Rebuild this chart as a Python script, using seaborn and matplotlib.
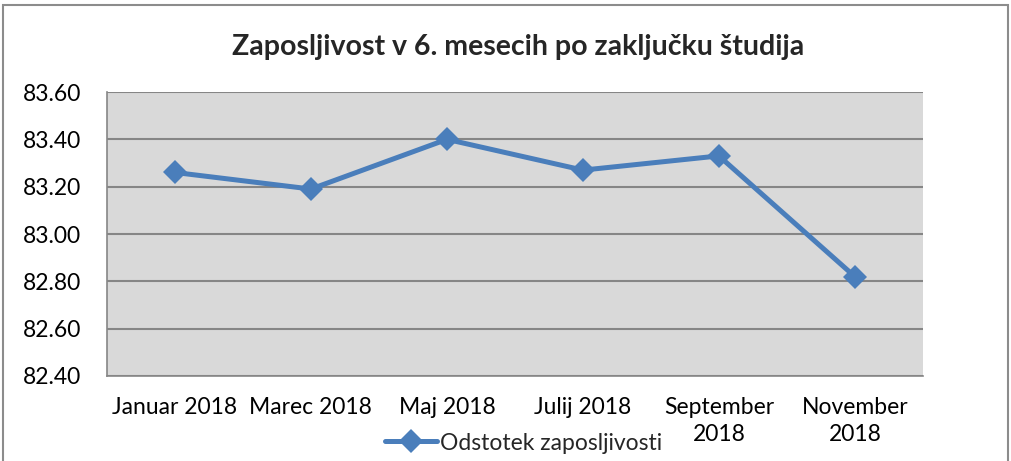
import numpy as np
import pandas as pd
import matplotlib.pyplot as plt
import seaborn as sns
from matplotlib.lines import Line2D
from matplotlib.patches import Rectangle


# -----------------------------
# Data
# -----------------------------
months = [
    "Januar 2018", "Marec 2018", "Maj 2018",
    "Julij 2018", "September\n2018", "November\n2018"
]
employment = [83.26, 83.19, 83.40, 83.27, 83.33, 82.82]
y_ticks = [82.40, 82.60, 82.80, 83.00, 83.20, 83.40, 83.60]

series_name = "Odstotek zaposljivosti"
title = "Zaposljivost v 6. mesecih po zaključku študija"

BLUE = "#4a7ebb"
GRID = "#868686"


def main():

    sns.set_style("white")
    plt.rcParams["font.family"] = ["Lato", "DejaVu Sans"]

    df = pd.DataFrame({"month": months, "value": employment})
    df["pos"] = np.arange(len(months))

    fig = plt.figure(figsize=(10.11, 4.61), dpi=100)
    ax = fig.add_axes([0.1058, 0.1844, 0.807, 0.6160])
    ax.set_facecolor("#d9d9d9")

    sns.lineplot(
        data=df,
        x="pos",
        y="value",
        ax=ax,
        color=BLUE,
        linewidth=3.6,
        marker="D",
        markersize=12,
        markeredgewidth=0,
        legend=False
    )

    # y axis
    ax.set_ylim(y_ticks[0], y_ticks[-1])
    ax.set_yticks(y_ticks)
    ax.set_yticklabels([f"{t:.2f}" for t in y_ticks])
    ax.yaxis.grid(True, color=GRID, linewidth=1.5)
    ax.set_axisbelow(True)

    # x axis: ticks at category borders, labels at centers
    n = len(months)
    ax.set_xlim(-0.5, n - 0.5)
    ax.set_xticks(np.arange(n + 1) - 0.5)
    ax.set_xticklabels([])
    ax.set_xticks(np.arange(n), minor=True)
    ax.set_xticklabels(months, minor=True, linespacing=1.35)

    ax.tick_params(axis="x", which="major", length=6, width=1.2, color=GRID)
    ax.tick_params(axis="x", which="minor", length=0, pad=15,
                   labelsize=16.5, labelcolor="black")
    ax.tick_params(axis="y", length=6.5, width=1.2, color=GRID,
                   labelsize=16.5, labelcolor="black", pad=12)

    ax.set_xlabel("")
    ax.set_ylabel("")

    for side in ["top", "right"]:
        ax.spines[side].set_visible(False)
    for side in ["left", "bottom"]:
        ax.spines[side].set_color(GRID)
        ax.spines[side].set_linewidth(1.2)

    # title
    fig.text(
        518 / 1011, 1 - 47 / 461, title,
        ha="center", va="center",
        fontsize=20.5, fontweight="bold"
    )

    # legend
    handle = Line2D([], [], color=BLUE, linewidth=3.6,
                    marker="D", markersize=12, markeredgewidth=0)
    fig.legend(
        [handle], [series_name],
        loc="center",
        bbox_to_anchor=(524 / 1011, 1 - 443 / 461),
        frameon=False,
        fontsize=16.5,
        handlelength=2.25,
        handletextpad=0.15
    )

    # outer chart border
    fig.patches.append(Rectangle(
        (3 / 1011, -0.05), 1005 / 1011, 1.05 - 5 / 461,
        transform=fig.transFigure, fill=False,
        edgecolor="#8c8c8c", linewidth=1.5
    ))

    fig.savefig("out.png", dpi=100)


if __name__ == "__main__":
    main()
